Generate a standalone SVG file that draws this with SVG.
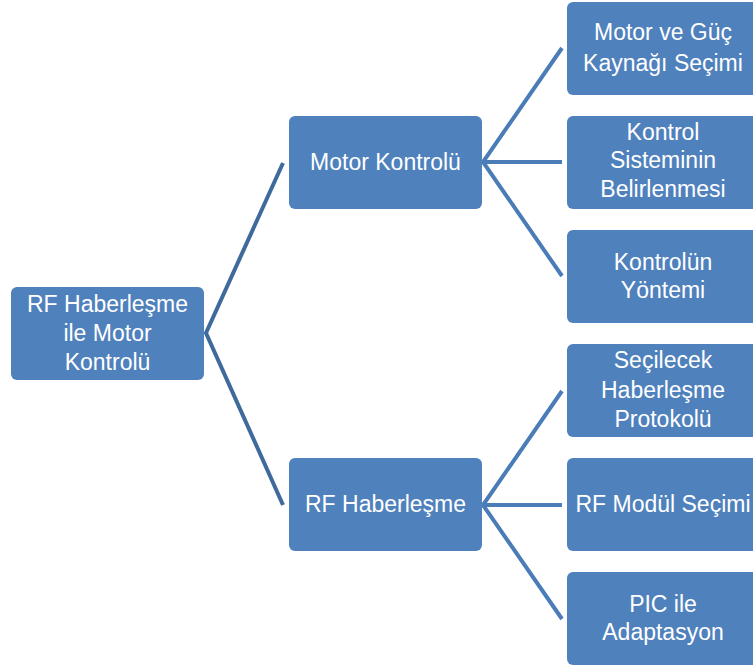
<svg xmlns="http://www.w3.org/2000/svg" width="753" height="669" viewBox="0 0 753 669">
  <style>
    .box { fill: #4F81BD; }
    .lbl { fill: #FFFFFF; font-family: "Liberation Sans", Arial, sans-serif; font-size: 23px; text-anchor: middle; }
    .link1 { fill: none; stroke: #3F6A9C; stroke-width: 4; stroke-linejoin: miter; }
    .link2 { fill: none; stroke: #4A7CB8; stroke-width: 4; stroke-linejoin: miter; }
  </style>
  <rect width="753" height="669" fill="#FFFFFF"/>

  <g id="connectors">
    <polyline class="link1" points="283,163 206,333 283,505"/>
    <polyline class="link2" points="562,48 483,162 562,276"/>
    <line class="link2" x1="483" y1="162" x2="562" y2="162"/>
    <polyline class="link2" points="562,391 483,505 562,619"/>
    <line class="link2" x1="483" y1="505" x2="562" y2="505"/>
  </g>

  <g id="root">
    <rect class="box" x="11" y="287" width="193" height="93" rx="6"/>
    <text class="lbl" x="107.5" y="312">RF Haberleşme</text>
    <text class="lbl" x="107.5" y="341">ile Motor</text>
    <text class="lbl" x="107.5" y="370">Kontrolü</text>
  </g>

  <g id="motor-kontrolu">
    <rect class="box" x="289" y="116" width="193" height="93" rx="6"/>
    <text class="lbl" x="385.5" y="170">Motor Kontrolü</text>
  </g>

  <g id="rf-haberlesme">
    <rect class="box" x="289" y="458" width="193" height="93" rx="6"/>
    <text class="lbl" x="385.5" y="512">RF Haberleşme</text>
  </g>

  <g id="motor-guc">
    <rect class="box" x="567" y="2" width="193" height="93" rx="6"/>
    <text class="lbl" x="663" y="40">Motor ve Güç</text>
    <text class="lbl" x="663" y="71">Kaynağı Seçimi</text>
  </g>

  <g id="kontrol-sistemi">
    <rect class="box" x="567" y="116" width="193" height="93" rx="6"/>
    <text class="lbl" x="663" y="140">Kontrol</text>
    <text class="lbl" x="663" y="168">Sisteminin</text>
    <text class="lbl" x="663" y="197">Belirlenmesi</text>
  </g>

  <g id="kontrol-yontemi">
    <rect class="box" x="567" y="230" width="193" height="93" rx="6"/>
    <text class="lbl" x="663" y="270">Kontrolün</text>
    <text class="lbl" x="663" y="298">Yöntemi</text>
  </g>

  <g id="protokol">
    <rect class="box" x="567" y="344" width="193" height="93" rx="6"/>
    <text class="lbl" x="663" y="368">Seçilecek</text>
    <text class="lbl" x="663" y="398">Haberleşme</text>
    <text class="lbl" x="663" y="427">Protokolü</text>
  </g>

  <g id="rf-modul">
    <rect class="box" x="567" y="458" width="193" height="93" rx="6"/>
    <text class="lbl" x="663" y="512">RF Modül Seçimi</text>
  </g>

  <g id="pic-adaptasyon">
    <rect class="box" x="567" y="572" width="193" height="93" rx="6"/>
    <text class="lbl" x="663" y="612">PIC ile</text>
    <text class="lbl" x="663" y="640">Adaptasyon</text>
  </g>
</svg>
